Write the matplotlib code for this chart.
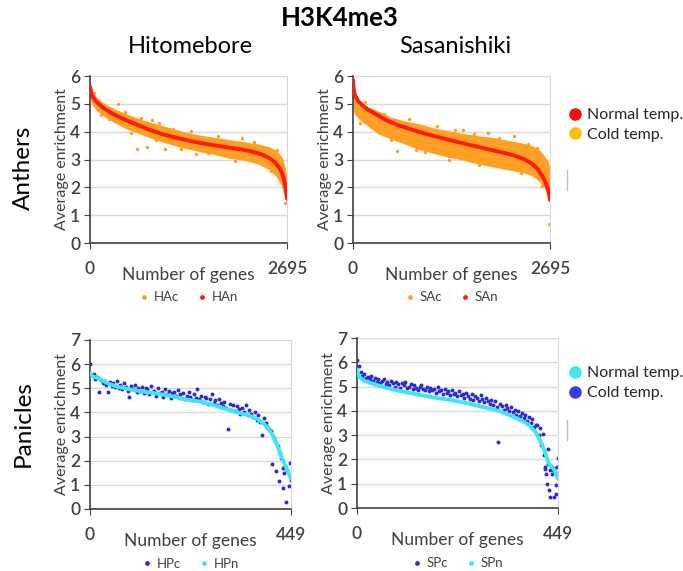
import numpy as np
import matplotlib
matplotlib.use("Agg")
import matplotlib.pyplot as plt
from matplotlib.lines import Line2D

plt.rcParams['font.family'] = ['Lato', 'DejaVu Sans']

# ---- Anthers (2695 genes): normal curve + cold cloud envelope ----
an_x = [0, 10, 30, 70, 130, 200, 300, 450, 600, 800, 1000, 1200, 1400, 1600,
        1800, 2000, 2200, 2350, 2450, 2530, 2590, 2630, 2660, 2680, 2695]
han_y = [5.6, 5.45, 5.3, 5.12, 4.97, 4.82, 4.66, 4.46, 4.3, 4.08, 3.9, 3.77,
         3.65, 3.55, 3.47, 3.39, 3.3, 3.18, 3.06, 2.9, 2.7, 2.5, 2.2, 1.95, 1.6]
san_y = [5.85, 5.5, 5.3, 5.1, 4.95, 4.8, 4.65, 4.42, 4.25, 4.08, 3.92, 3.78,
         3.65, 3.52, 3.4, 3.28, 3.15, 3.0, 2.85, 2.65, 2.4, 2.2, 2.0, 1.8, 1.55]

cloud_x = [0, 30, 100, 200, 350, 500, 700, 900, 1100, 1300, 1500, 1700, 1900,
           2100, 2300, 2450, 2550, 2620, 2660, 2695]
hac_hi = [5.7, 5.4, 5.15, 4.97, 4.76, 4.6, 4.4, 4.25, 4.1, 3.95, 3.84, 3.76,
          3.68, 3.6, 3.52, 3.42, 3.28, 3.04, 2.68, 2.05]
hac_lo = [5.35, 5.05, 4.78, 4.58, 4.34, 4.14, 3.94, 3.74, 3.58, 3.44, 3.32, 3.22,
          3.08, 3.02, 2.88, 2.68, 2.44, 2.14, 1.82, 1.5]
sac_hi = [5.25, 5.12, 4.97, 4.86, 4.7, 4.5, 4.35, 4.25, 4.1, 4.0, 3.9, 3.82,
          3.76, 3.66, 3.56, 3.46, 3.3, 3.06, 2.9, 2.55]
sac_lo = [5.0, 4.66, 4.46, 4.26, 3.96, 3.8, 3.6, 3.4, 3.26, 3.12, 3.02, 2.88,
          2.78, 2.68, 2.58, 2.46, 2.26, 2.06, 1.86, 1.62]
hac_out_x = [387, 844, 775, 1026, 1140, 2075, 2120, 2370, 2554, 2667, 60, 150,
             260, 480, 560, 640, 700, 950, 1250, 1380, 1620, 1750, 1980, 2250,
             2480, 2600, 1450, 900]
hac_out_y = [4.99, 4.42, 3.44, 3.37, 4.09, 3.77, 3.08, 2.84, 3.35, 1.43, 5.4,
             4.6, 4.45, 4.7, 3.95, 3.38, 4.5, 4.32, 3.38, 4.02, 3.25, 3.85, 2.95,
             3.62, 2.6, 2.3, 3.2, 3.7]
sac_out_x = [160, 600, 1500, 1850, 2200, 2400, 2680, 90, 250, 420, 520, 760,
             980, 1150, 1320, 1650, 1720, 2000, 2300, 2520, 2580, 1400, 860]
sac_out_y = [5.05, 3.3, 4.05, 3.95, 3.85, 3.55, 0.68, 4.3, 4.15, 4.65, 3.7,
             4.45, 3.28, 4.2, 2.98, 3.9, 2.82, 3.78, 2.5, 3.4, 2.05, 4.05, 3.35]

# ---- Panicles (449 genes) ----
hpn_x = [0, 5, 20, 40, 60, 95, 130, 170, 210, 245, 280, 320, 355, 375, 390,
         400, 410, 420, 428, 436, 442, 449]
hpn_y = [5.65, 5.5, 5.4, 5.2, 5.07, 4.93, 4.83, 4.72, 4.55, 4.45, 4.28, 4.04,
         3.88, 3.72, 3.5, 3.28, 3.0, 2.55, 2.15, 1.8, 1.55, 1.25]
spn_x = [0, 5, 15, 35, 65, 100, 140, 180, 215, 250, 290, 320, 350, 370, 385,
         400, 410, 418, 428, 440, 449]
spn_y = [5.7, 5.4, 5.25, 5.12, 4.95, 4.8, 4.66, 4.53, 4.43, 4.3, 4.12, 3.98,
         3.75, 3.58, 3.4, 3.1, 2.75, 2.4, 1.85, 1.6, 1.2]

# cold values, read every 4th gene (0..400)
hpc_y = [6.0, 5.55, 5.6, 5.4, 5.45, 4.86, 5.35, 5.2, 5.3, 5.15,
         4.86, 5.25, 5.1, 5.2, 5.05, 5.3, 5.0, 5.15, 4.95, 5.2,
         5.05, 4.9, 4.65, 5.1, 4.95, 5.15, 4.85, 5.0, 4.9, 5.05,
         4.8, 5.0, 4.95, 4.75, 5.1, 4.85, 4.9, 4.7, 5.0, 4.8,
         4.85, 4.65, 4.95, 4.75, 4.9, 4.6, 4.8, 4.85, 4.7, 4.93,
         4.75, 4.6, 4.8, 4.55, 4.7, 4.85, 4.65, 4.5, 4.75, 4.6,
         4.95, 4.55, 4.7, 4.45, 4.65, 4.6, 4.35, 4.55, 4.75, 4.4,
         4.5, 4.3, 4.55, 4.4, 4.25, 4.45, 4.2, 3.32, 4.35, 4.1,
         4.3, 4.05, 4.25, 4.15, 3.95, 4.2, 4.0, 4.3, 3.9, 4.1,
         3.95, 3.8, 4.0, 3.7, 3.9, 3.6, 3.07, 3.75, 3.55, 3.4, 3.3]
hpc_tail_x = [404, 407, 410, 413, 416, 419, 422, 424, 427, 430, 432, 434, 436,
              438, 441, 444, 446, 449]
hpc_tail_y = [3.25, 1.86, 2.95, 2.8, 1.58, 2.6, 1.17, 2.31, 2.1, 0.87, 1.69,
              1.49, 1.8, 0.31, 1.6, 0.96, 1.9, 1.2]

spc_y = [6.1, 5.85, 5.6, 5.45, 5.5, 5.35, 5.4, 5.3, 5.45, 5.25,
         5.35, 5.2, 5.3, 5.15, 5.25, 5.3, 5.1, 5.2, 5.05, 5.25,
         5.15, 5.0, 5.2, 5.1, 4.95, 5.15, 5.05, 5.2, 4.95, 5.0,
         5.1, 4.9, 5.05, 4.95, 4.85, 5.0, 5.05, 4.9, 4.85, 5.0,
         4.8, 4.95, 4.85, 4.9, 4.75, 5.0, 4.8, 4.85, 4.7, 4.9,
         4.75, 4.8, 4.65, 4.85, 4.7, 4.75, 4.6, 4.8, 4.65, 4.7,
         4.55, 4.75, 4.6, 4.5, 4.7, 4.45, 4.6, 4.55, 4.4, 4.65,
         4.5, 4.35, 4.55, 4.4, 4.3, 4.45, 4.25, 4.4, 4.15, 2.7,
         4.3, 4.2, 4.05, 4.25, 4.1, 4.0, 4.15, 3.95, 4.05, 3.85,
         4.0, 3.8, 3.9, 3.7, 3.85, 3.6, 3.75, 3.5, 3.65, 3.35, 3.4]
spc_tail_x = [403, 406, 409, 412, 415, 418, 419, 421, 423, 424, 426, 427, 429,
              430, 432, 434, 436, 438, 440, 441, 443, 444, 445, 447, 449]
spc_tail_y = [3.4, 3.0, 3.3, 2.6, 3.05, 2.2, 1.7, 1.6, 1.42, 1.0, 1.8, 2.45,
              0.73, 1.55, 0.45, 1.75, 1.4, 1.56, 1.65, 0.45, 1.5, 0.94, 0.59,
              1.7, 2.05]

RED = '#ff1a0a'
ORANGE = '#ffa024'
CYAN = '#3fe6f0'
BLUE = '#2a2ae0'
AXC = '#404040'


def style(ax, ymax, xmax, names, colors):
    ax.set_xlim(0, xmax)
    ax.set_ylim(0, ymax)
    ax.set_yticks(range(ymax + 1))
    ax.set_xticks([0, xmax])
    ax.set_xticklabels(['0', str(xmax)])
    ax.grid(axis='y', color='#d9d9d9', lw=1)
    ax.set_axisbelow(True)
    ax.spines['top'].set_visible(False)
    ax.spines['right'].set_color('#d9d9d9')
    for s in ('left', 'bottom'):
        ax.spines[s].set_color(AXC)
        ax.spines[s].set_linewidth(1.2)
    ax.tick_params(axis='y', length=4, color=AXC, labelsize=12.5, labelcolor=AXC, pad=3)
    ax.tick_params(axis='x', length=4, color=AXC, labelsize=12.5, labelcolor=AXC, pad=9)
    for t in ax.get_xticklabels() + ax.get_yticklabels():
        t.set_fontweight('semibold')
    ax.set_ylabel('Average enrichment', fontsize=11.5, color=AXC, labelpad=1)
    ax.set_xlabel('Number of genes', fontsize=12.5, color=AXC, labelpad=-7)
    handles = [Line2D([], [], ls='none', marker='o', ms=2.4, color=c) for c in colors]
    ax.legend(handles, names, loc='center', bbox_to_anchor=(0.5, -0.325), ncol=2,
              frameon=False, fontsize=9.5, handlelength=0.8, handletextpad=0.3,
              columnspacing=1.4, labelcolor=AXC)


fig = plt.figure(figsize=(6.83, 5.71), dpi=100)
ax1 = fig.add_axes([0.1318, 0.5744, 0.2884, 0.2925])
ax2 = fig.add_axes([0.5168, 0.5744, 0.2884, 0.2925])
ax3 = fig.add_axes([0.1318, 0.1086, 0.2943, 0.2960])
ax4 = fig.add_axes([0.5227, 0.1103, 0.2943, 0.2977])

# anthers
for ax, lo, hi, ox, oy, ny in [(ax1, hac_lo, hac_hi, hac_out_x, hac_out_y, han_y),
                               (ax2, sac_lo, sac_hi, sac_out_x, sac_out_y, san_y)]:
    ax.fill_between(cloud_x, lo, hi, color=ORANGE, lw=1.5, edgecolor=ORANGE, zorder=2)
    ax.scatter(ox, oy, s=6, color=ORANGE, lw=0, zorder=2)
    ax.plot(an_x, ny, color=RED, lw=2.8, solid_capstyle='round', zorder=3)

style(ax1, 6, 2695, ['HAc', 'HAn'], [ORANGE, RED])
style(ax2, 6, 2695, ['SAc', 'SAn'], [ORANGE, RED])

# panicles
gx = np.arange(0, 401, 4)
ax3.scatter(gx, hpc_y, s=8, color=BLUE, lw=0, zorder=2)
ax3.scatter(hpc_tail_x, hpc_tail_y, s=8, color=BLUE, lw=0, zorder=2)
ax3.plot(hpn_x, hpn_y, color=CYAN, lw=2.8, solid_capstyle='round', zorder=3)
ax4.scatter(gx, spc_y, s=8, color=BLUE, lw=0, zorder=2)
ax4.scatter(spc_tail_x, spc_tail_y, s=8, color=BLUE, lw=0, zorder=2)
ax4.plot(spn_x, spn_y, color=CYAN, lw=2.8, solid_capstyle='round', zorder=3)

style(ax3, 7, 449, ['HPc', 'HPn'], [BLUE, CYAN])
style(ax4, 7, 449, ['SPc', 'SPn'], [BLUE, CYAN])

# titles
fig.text(0.498, 0.968, 'H3K4me3', ha='center', va='center', fontsize=18.5, fontweight='bold')
fig.text(0.279, 0.918, 'Hitomebore', ha='center', va='center', fontsize=17)
fig.text(0.666, 0.918, 'Sasanishiki', ha='center', va='center', fontsize=17)
fig.text(0.034, 0.706, 'Anthers', ha='center', va='center', rotation=90, fontsize=17.5)
fig.text(0.034, 0.259, 'Panicles', ha='center', va='center', rotation=90, fontsize=17.5)

# side legends
for (yc, cols) in [(0.781, ['#ee1111', '#ffc000']), (0.329, [CYAN, '#3a3aea'])]:
    hs = [Line2D([], [], ls='none', marker='o', ms=8, color=c) for c in cols]
    fig.legend(hs, ['Normal temp.', 'Cold temp.'], loc='center left',
               bbox_to_anchor=(0.832, yc), frameon=False, fontsize=11.5,
               handlelength=0.8, handletextpad=0.35, labelspacing=0.35,
               borderpad=0, borderaxespad=0, labelcolor='#262626')

# small stray marks next to the plots
fig.add_artist(Line2D([0.8302, 0.8302], [1 - 170 / 571, 1 - 190 / 571], color='#bfbfbf', lw=1))
fig.add_artist(Line2D([0.8302, 0.8302], [1 - 420 / 571, 1 - 440 / 571], color='#bfbfbf', lw=1))

fig.savefig('out.png', dpi=100)
